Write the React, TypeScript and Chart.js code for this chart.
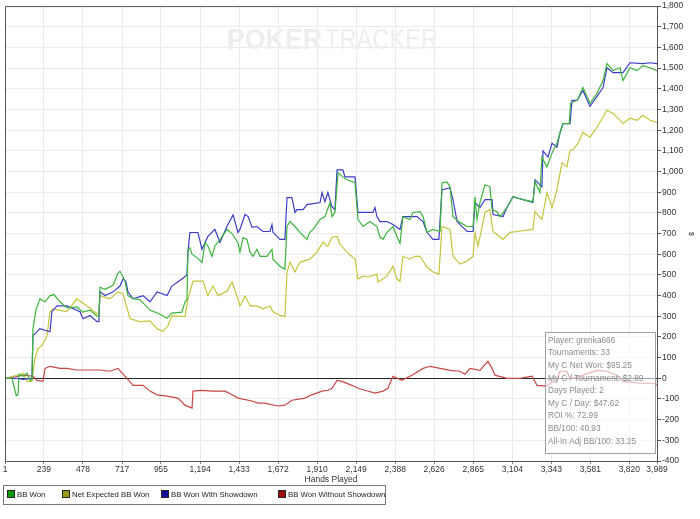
import { useEffect, useRef } from 'react';
import { Chart, registerables } from 'chart.js';

Chart.register(...registerables);

// ---------- data ----------
const xTickValues = [1, 239, 478, 717, 955, 1194, 1433, 1672, 1910, 2149, 2388, 2626, 2865, 3104, 3343, 3581, 3820, 3989];

const seriesLabels = ['BB Won', 'Net Expected BB Won', 'BB Won With Showdown', 'BB Won Without Showdown'];

// [hand, BB]
const bbWon: [number, number][] = [
  [1, 0], [44, 0], [56, -40], [70, -85], [80, -80], [87, 20], [111, 10], [136, 25], [154, -10], [166, -5], [172, 240], [190, 330], [215, 384], [246, 370], [276, 400], [300, 405], [337, 370], [380, 340], [441, 345], [478, 320], [521, 330], [564, 300], [575, 300], [582, 440], [613, 430], [662, 450], [690, 505], [704, 518], [717, 500], [735, 470], [753, 400], [784, 385], [827, 380], [888, 330], [949, 310], [992, 290], [1022, 315], [1083, 320], [1102, 370], [1114, 380], [1120, 624], [1132, 630], [1145, 600], [1181, 580], [1206, 560], [1224, 655], [1242, 640], [1267, 590], [1285, 640], [1316, 670], [1359, 720], [1390, 700], [1426, 655], [1438, 610], [1457, 680], [1481, 672], [1500, 610], [1518, 590], [1542, 624], [1561, 590], [1603, 590], [1634, 624], [1640, 576], [1683, 542], [1713, 528], [1726, 734], [1744, 758], [1775, 734], [1805, 706], [1848, 672], [1866, 706], [1885, 720], [1928, 768], [1958, 782], [1989, 850], [2001, 782], [2019, 802], [2038, 994], [2068, 974], [2093, 960], [2142, 946], [2160, 768], [2191, 734], [2233, 758], [2276, 734], [2295, 682], [2313, 672], [2337, 706], [2374, 734], [2398, 686], [2417, 653], [2435, 782], [2478, 768], [2496, 802], [2539, 806], [2558, 782], [2582, 706], [2619, 720], [2662, 710], [2674, 946], [2704, 950], [2723, 926], [2741, 782], [2784, 754], [2827, 734], [2864, 734], [2876, 878], [2888, 768], [2906, 850], [2937, 936], [2967, 926], [2980, 816], [3010, 806], [3029, 782], [3071, 826], [3108, 878], [3169, 864], [3230, 854], [3243, 950], [3273, 898], [3285, 1070], [3316, 1022], [3347, 1090], [3377, 1137], [3395, 1185], [3414, 1232], [3452, 1232], [3460, 1330], [3500, 1344], [3536, 1406], [3579, 1330], [3622, 1378], [3659, 1440], [3683, 1522], [3720, 1488], [3763, 1502], [3781, 1440], [3824, 1502], [3867, 1488], [3903, 1512], [3946, 1502], [3989, 1488],
];

const netExpected: [number, number][] = [
  [1, 0], [80, 15], [111, 24], [136, -15], [166, -15], [184, 96], [203, 144], [227, 158], [258, 206], [276, 322], [295, 336], [380, 322], [441, 384], [503, 350], [564, 312], [575, 312], [582, 400], [643, 384], [692, 418], [723, 408], [766, 288], [827, 274], [888, 278], [931, 240], [967, 226], [998, 254], [1022, 302], [1102, 298], [1120, 384], [1151, 470], [1212, 470], [1242, 400], [1273, 446], [1304, 400], [1359, 422], [1390, 466], [1426, 384], [1438, 350], [1469, 398], [1500, 350], [1542, 350], [1579, 336], [1622, 350], [1640, 322], [1683, 304], [1713, 298], [1726, 514], [1744, 562], [1775, 514], [1805, 562], [1866, 576], [1909, 610], [1946, 658], [1976, 638], [2001, 682], [2032, 686], [2050, 648], [2093, 610], [2142, 576], [2160, 480], [2191, 494], [2221, 490], [2276, 504], [2282, 466], [2313, 480], [2337, 494], [2374, 542], [2398, 480], [2417, 470], [2435, 590], [2478, 576], [2509, 590], [2539, 590], [2582, 538], [2619, 514], [2655, 504], [2674, 734], [2723, 720], [2741, 590], [2784, 552], [2827, 566], [2864, 590], [2876, 706], [2894, 638], [2937, 802], [2967, 816], [2986, 710], [3047, 672], [3090, 706], [3133, 710], [3230, 720], [3243, 806], [3285, 768], [3316, 898], [3347, 826], [3377, 912], [3408, 1042], [3438, 1022], [3457, 1104], [3475, 1104], [3506, 1137], [3536, 1190], [3579, 1166], [3622, 1214], [3683, 1296], [3720, 1282], [3781, 1232], [3824, 1258], [3867, 1248], [3903, 1272], [3946, 1248], [3989, 1238],
];

const withShowdown: [number, number][] = [
  [1, 0], [80, 0], [111, -5], [166, 0], [172, 206], [215, 240], [276, 225], [288, 322], [319, 350], [380, 350], [460, 322], [478, 288], [521, 304], [564, 274], [575, 274], [582, 418], [613, 400], [662, 418], [704, 446], [723, 480], [740, 470], [753, 418], [784, 384], [845, 400], [888, 370], [931, 418], [992, 400], [1022, 446], [1083, 480], [1114, 500], [1120, 608], [1132, 705], [1181, 705], [1206, 624], [1242, 686], [1285, 720], [1316, 657], [1359, 735], [1396, 790], [1426, 705], [1438, 720], [1469, 792], [1488, 782], [1512, 730], [1542, 734], [1579, 710], [1622, 710], [1634, 744], [1640, 706], [1683, 672], [1713, 672], [1726, 874], [1756, 874], [1775, 802], [1787, 816], [1824, 816], [1848, 840], [1928, 850], [1940, 898], [1958, 854], [1976, 898], [2001, 830], [2019, 816], [2032, 1008], [2068, 1008], [2080, 974], [2142, 974], [2160, 802], [2252, 802], [2264, 826], [2276, 782], [2295, 758], [2337, 758], [2374, 744], [2417, 720], [2435, 782], [2521, 782], [2558, 758], [2582, 706], [2619, 672], [2655, 672], [2674, 912], [2723, 921], [2741, 864], [2766, 758], [2827, 710], [2864, 710], [2876, 850], [2906, 826], [2937, 864], [2980, 864], [2986, 792], [3047, 782], [3071, 826], [3108, 878], [3230, 850], [3243, 960], [3285, 926], [3292, 1100], [3322, 1070], [3347, 1137], [3377, 1118], [3395, 1185], [3414, 1232], [3457, 1232], [3469, 1344], [3500, 1344], [3536, 1392], [3579, 1315], [3622, 1363], [3659, 1406], [3683, 1502], [3720, 1478], [3781, 1478], [3824, 1526], [3903, 1522], [3946, 1526], [3989, 1522],
];

const withoutShowdown: [number, number][] = [
  [1, 0], [80, 10], [111, 15], [172, 10], [197, -10], [233, -15], [246, 48], [276, 58], [337, 48], [380, 48], [441, 40], [503, 40], [582, 40], [643, 34], [692, 48], [747, 0], [784, -34], [845, -34], [888, -62], [931, -80], [992, -86], [1059, -96], [1102, -130], [1145, -144], [1151, -62], [1206, -58], [1267, -62], [1347, -62], [1390, -80], [1426, -96], [1512, -110], [1549, -120], [1591, -120], [1671, -134], [1713, -130], [1756, -106], [1836, -96], [1878, -80], [1940, -62], [1976, -58], [2001, -48], [2032, -10], [2062, -15], [2123, -34], [2160, -48], [2203, -58], [2264, -72], [2313, -62], [2343, -48], [2374, 10], [2429, -10], [2490, 15], [2558, 48], [2600, 58], [2662, 48], [2723, 38], [2784, 34], [2815, 20], [2845, 48], [2906, 38], [2955, 82], [2980, 48], [2998, 15], [3071, 0], [3151, 0], [3224, 10], [3255, -34], [3316, -38], [3334, -24], [3377, -10], [3395, 34], [3438, 34], [3450, 10], [3475, 0], [3536, 15], [3622, 38], [3683, 34], [3744, 15], [3781, -15], [3885, -24], [3965, -24], [3989, -34],
];

const infoLines = [
  'Player: grenka666',
  'Tournaments: 33',
  'My C Net Won: $95.25',
  'My C / Tournament: $2.89',
  'Days Played: 2',
  'My C / Day: $47.62',
  'ROI %: 72.99',
  'BB/100: 40.93',
  'All-In Adj BB/100: 33.25',
];

const lineColors = ['#3cb43c', '#c4c43a', '#3c3cc8', '#c84646'];
const swatchColors = ['#0a9a0a', '#9c9c10', '#10109c', '#a01010'];

const fmt = (v: number) => Math.round(v).toLocaleString('en-US');
const toPoints = (s: [number, number][]) => s.map(([h, v]) => ({ x: h, y: v }));

const overlayPlugin = {
  id: 'overlay',
  beforeDatasetsDraw(chart: any) {
    const ctx = chart.ctx as CanvasRenderingContext2D;
    ctx.save();
    ctx.fillStyle = '#eeeeee';
    ctx.textBaseline = 'alphabetic';
    ctx.textAlign = 'left';
    ctx.font = 'bold 30px "Liberation Sans", Arial, sans-serif';
    let w = ctx.measureText('POKER').width;
    ctx.save();
    ctx.translate(227, 49);
    ctx.scale(95 / w, 1);
    ctx.fillText('POKER', 0, 0);
    ctx.restore();
    ctx.font = '30px "Liberation Sans", Arial, sans-serif';
    w = ctx.measureText('TRACKER').width;
    ctx.save();
    ctx.translate(325, 49);
    ctx.scale(113 / w, 1);
    ctx.fillText('TRACKER', 0, 0);
    ctx.restore();
    ctx.restore();
  },
  afterDraw(chart: any) {
    const ctx = chart.ctx as CanvasRenderingContext2D;
    const a = chart.chartArea;
    ctx.save();
    ctx.strokeStyle = '#555';
    ctx.lineWidth = 1;
    ctx.beginPath();
    ctx.moveTo(a.left + 0.5, a.bottom);
    ctx.lineTo(a.left + 0.5, a.top + 0.5);
    ctx.lineTo(a.right, a.top + 0.5);
    ctx.stroke();

    // info box
    ctx.fillStyle = 'rgba(255,255,255,0.6)';
    ctx.fillRect(545, 332, 110, 121);
    ctx.strokeStyle = '#a0a0a0';
    ctx.strokeRect(545.5, 332.5, 110, 121);
    ctx.fillStyle = '#8c8c8c';
    ctx.font = '8.3px "Liberation Sans", Arial, sans-serif';
    ctx.textBaseline = 'middle';
    ctx.textAlign = 'left';
    infoLines.forEach((t, i) => ctx.fillText(t, 548, 340.5 + i * 12.6));

    // x axis title
    ctx.fillStyle = '#333';
    ctx.font = '8.5px "Liberation Sans", Arial, sans-serif';
    ctx.textAlign = 'center';
    ctx.fillText('Hands Played', (a.left + a.right) / 2, 480);

    // y axis title
    ctx.save();
    ctx.translate(691, 234);
    ctx.rotate(Math.PI / 2);
    ctx.font = '7px "Liberation Sans", Arial, sans-serif';
    ctx.fillText('$', 0, 0);
    ctx.restore();

    // legend
    ctx.strokeStyle = '#777';
    ctx.strokeRect(3.5, 485.5, 382, 19);
    const sx = [8, 63, 162, 279];
    ctx.font = '7.8px "Liberation Sans", Arial, sans-serif';
    ctx.textAlign = 'left';
    seriesLabels.forEach((lab, i) => {
      ctx.fillStyle = swatchColors[i];
      ctx.fillRect(sx[i], 491, 6, 6);
      ctx.strokeStyle = '#222';
      ctx.strokeRect(sx[i] - 0.5, 490.5, 7, 7);
      ctx.fillStyle = '#222';
      ctx.fillText(lab, sx[i] + 9, 494.5);
    });
    ctx.restore();
  },
};

export default function App() {
  const ref = useRef<HTMLCanvasElement>(null);
  useEffect(() => {
    document.body.style.margin = '0';
    const mk = (label: string, s: [number, number][], color: string) => ({
      label,
      data: toPoints(s),
      borderColor: color,
      backgroundColor: color,
      borderWidth: 1.2,
      pointRadius: 0,
      tension: 0,
      fill: false,
    });
    const chart = new Chart(ref.current!, {
      type: 'line',
      data: {
        datasets: [
          mk(seriesLabels[0], bbWon, lineColors[0]),
          mk(seriesLabels[2], withShowdown, lineColors[2]),
          mk(seriesLabels[1], netExpected, lineColors[1]),
          mk(seriesLabels[3], withoutShowdown, lineColors[3]),
        ],
      },
      options: {
        animation: false,
        responsive: false,
        maintainAspectRatio: false,
        layout: { padding: { left: 5, top: 5, right: 0, bottom: 36 } },
        plugins: { legend: { display: false }, tooltip: { enabled: false }, title: { display: false } },
        scales: {
          x: {
            type: 'linear',
            min: 1,
            max: 3989,
            afterFit: (s: any) => { s.height = 22; },
            afterBuildTicks: (s: any) => { s.ticks = xTickValues.map((v) => ({ value: v })); },
            ticks: {
              autoSkip: false,
              maxRotation: 0,
              padding: 1,
              color: '#333',
              font: { family: '"Liberation Sans", Arial, sans-serif', size: 8.5 },
              callback: (v: any) => fmt(Number(v)),
            },
            grid: { color: '#ebebeb', tickLength: 3, tickColor: '#888' },
            border: { display: true, color: '#555' },
          },
          y: {
            position: 'right',
            min: -400,
            max: 1800,
            afterFit: (s: any) => { s.width = 43; },
            ticks: {
              stepSize: 100,
              padding: 1,
              color: '#333',
              font: { family: '"Liberation Sans", Arial, sans-serif', size: 8.5 },
              callback: (v: any) => fmt(Number(v)),
            },
            grid: {
              color: (c: any) => (c.tick && c.tick.value === 0 ? '#222' : '#ebebeb'),
              tickLength: 4,
              tickColor: '#555',
            },
            border: { display: true, color: '#555' },
          },
        },
      },
      plugins: [overlayPlugin],
    } as any);
    return () => chart.destroy();
  }, []);
  return (
    <div style={{ width: 700, height: 519 }}>
      <canvas ref={ref} width={700} height={519} style={{ display: 'block' }} />
    </div>
  );
}
